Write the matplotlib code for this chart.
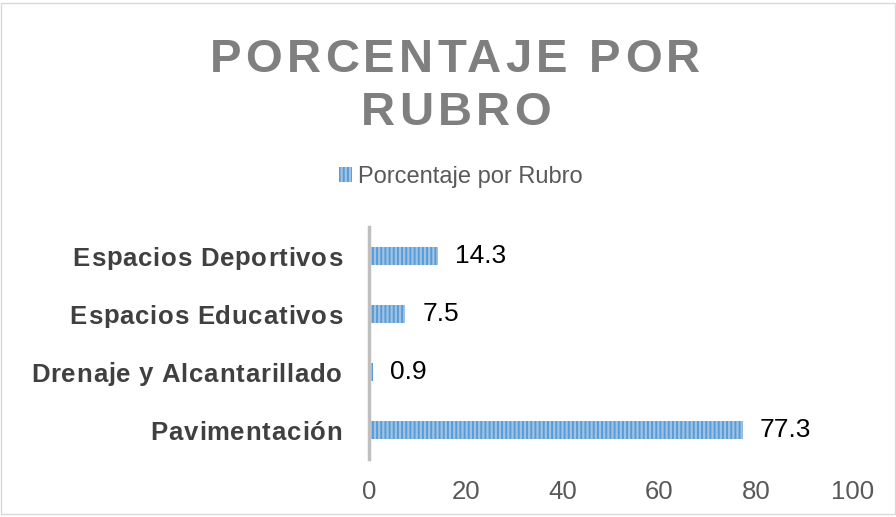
import matplotlib.pyplot as plt
from matplotlib.patches import Rectangle
from matplotlib.font_manager import FontProperties

# data
rubros = ["Pavimentación", "Drenaje y Alcantarillado", "Espacios Educativos", "Espacios Deportivos"]
porcentajes = [77.3, 0.9, 7.5, 14.3]
x_ticks = [0, 20, 40, 60, 80, 100]
titulo = ["PORCENTAJE POR", "RUBRO"]

plt.rcParams['font.family'] = ['Liberation Sans', 'DejaVu Sans']
plt.rcParams['hatch.linewidth'] = 1.4

W, H = 896, 517
fig = plt.figure(figsize=(W / 100, H / 100), dpi=100)
renderer = fig.canvas.get_renderer()


def spaced_text(x_px, y_px, s, size, spacing, ha='left', va='baseline', **kw):
    # draw text char by char with extra letter spacing (pixel coords, y from top)
    fp = FontProperties(family='Liberation Sans', size=size, weight=kw.get('fontweight', 'normal'))
    def width(t):
        return renderer.get_text_width_height_descent(t, fp, ismath=False)[0]
    pos = []
    for i, ch in enumerate(s):
        pos.append(width(s[:i + 1]) - width(ch) + i * spacing)
    total = width(s) + (len(s) - 1) * spacing
    if ha == 'center':
        x0 = x_px - total / 2
    elif ha == 'right':
        x0 = x_px - total
    else:
        x0 = x_px
    for ch, p in zip(s, pos):
        if ch == ' ':
            continue
        fig.text((x0 + p) / W, 1 - y_px / H, ch, fontsize=size, ha='left', va=va, **kw)


ax = fig.add_axes([369 / W, 1 - 459 / H, 484 / W, 232 / H])

bars = ax.barh(range(len(rubros)), porcentajes, height=0.31, color='#9dc3e6',
               edgecolor='#5b9bd5', hatch='||||', linewidth=0, label='Porcentaje por Rubro')

for i, v in enumerate(porcentajes):
    ax.text(v + 3.5, i, str(v), va='center', ha='left', fontsize=19, color='black')

ax.set_xlim(0, 100)
ax.set_ylim(-0.5, 3.5)
ax.set_xticks(x_ticks)
ax.set_yticks([])
ax.tick_params(axis='x', length=0, pad=15, labelsize=18.5, labelcolor='#595959')
for s in ['top', 'right', 'bottom']:
    ax.spines[s].set_visible(False)
ax.spines['left'].set_color('#bfbfbf')
ax.spines['left'].set_linewidth(2.5)

# category labels, letter spaced like the original
for i, r in enumerate(rubros):
    y_c = ax.transData.transform((0, i))[1]
    spaced_text(342, H - y_c, r, 18.5, 0.8, ha='right', va='center_baseline',
                fontweight='bold', color='#404040')

# title
spaced_text(455, 72, titulo[0], 34, 4.3, ha='center', fontweight='bold', color='#7f7f7f')
spaced_text(456, 125, titulo[1], 34, 4.3, ha='center', fontweight='bold', color='#7f7f7f')

fig.legend(handles=[bars], loc='center', bbox_to_anchor=(0.514, 0.658), frameon=False,
           fontsize=17, labelcolor='#595959', handlelength=0.55, handleheight=0.55,
           handletextpad=0.25)

fig.patches.append(Rectangle((0.001, 0.006), 0.998, 0.988, transform=fig.transFigure,
                             fill=False, edgecolor='#d9d9d9', linewidth=1))

fig.savefig('out.png', dpi=100)
